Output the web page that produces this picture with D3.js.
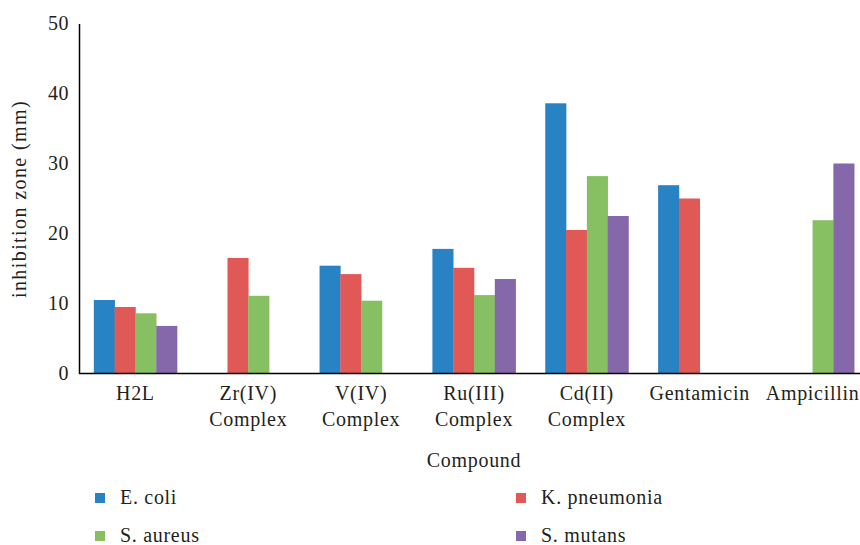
<!DOCTYPE html>
<html><head><meta charset="utf-8">
<script src="https://cdn.jsdelivr.net/npm/d3@7"></script>
<style>body{margin:0;background:#fff}svg{display:block}svg text{font-family:"Liberation Serif","DejaVu Serif",serif !important;fill:#231f20}</style>
</head><body>
<svg id="c" width="860" height="545"></svg>
<script>
const categories = ["H2L","Zr(IV)\nComplex","V(IV)\nComplex","Ru(III)\nComplex","Cd(II)\nComplex","Gentamicin","Ampicillin"];
const seriesNames = ["E. coli","K. pneumonia","S. aureus","S. mutans"];
const eColi      = [10.5, null, 15.4, 17.8, 38.6, 26.9, null];
const kPneumonia = [9.5, 16.5, 14.2, 15.1, 20.5, 25.0, null];
const sAureus    = [8.6, 11.1, 10.4, 11.2, 28.2, null, 21.9];
const sMutans    = [6.8, null, null, 13.5, 22.5, null, 30.0];
const yTicks = [0,10,20,30,40,50];
const colors = ["#2883c4","#e05957","#86c062","#8568aa"];

(function(){
const seriesVals = [eColi,kPneumonia,sAureus,sMutans];
const svg = d3.select("#c");
const mLeft = 79, mRight = 869, mTop = 23.5, mBottom = 373.5;
const FS = "20px", LS = "0.7px";

const x0 = d3.scaleBand().domain(categories).range([mLeft,mRight]).paddingInner(0).paddingOuter(0);
const step = x0.bandwidth();
const groupW = 83.2;
const x1 = d3.scaleBand().domain(seriesNames).range([(step-groupW)/2,(step+groupW)/2]);
const y = d3.scaleLinear().domain([0,50]).range([mBottom,mTop]);

// bars
const g = svg.append("g");
categories.forEach((c,i)=>{
  seriesNames.forEach((s,j)=>{
    const v = seriesVals[j][i];
    if(v==null) return;
    g.append("rect")
      .attr("x", x0(c)+x1(s))
      .attr("y", y(v))
      .attr("width", x1.bandwidth()+0.3)
      .attr("height", y(0)-y(v))
      .attr("fill", colors[j]);
  });
});

// y axis
const ya = svg.append("g").attr("transform",`translate(${mLeft},0)`)
  .call(d3.axisLeft(y).tickValues(yTicks).tickSize(0).tickPadding(10));
ya.attr("font-family",null).attr("font-size",null);
ya.select(".domain").attr("stroke","#000").attr("stroke-width",1.5);
ya.selectAll("text").style("font-size",FS).style("letter-spacing","0.5px").attr("fill","#231f20");

// x axis line
svg.append("line").attr("x1",mLeft).attr("x2",860).attr("y1",mBottom).attr("y2",mBottom)
  .attr("stroke","#000").attr("stroke-width",1.5);

// x labels
categories.forEach(c=>{
  const lines = c.split("\n");
  const t = svg.append("text").attr("text-anchor","middle")
    .attr("x", x0(c)+step/2).attr("y", 400).style("font-size",FS).style("letter-spacing",LS);
  lines.forEach((l,k)=>t.append("tspan").attr("x",x0(c)+step/2).attr("dy",k?26:0).text(l));
});

// axis titles
svg.append("text").attr("text-anchor","middle").attr("x",474).attr("y",467).style("font-size",FS).style("letter-spacing",LS).text("Compound");
svg.append("text").attr("text-anchor","middle").attr("transform","translate(26,199) rotate(-90)").style("font-size",FS).style("letter-spacing","1.4px").text("inhibition zone (mm)");

// legend
const legPos = [[95,498],[516,498],[95,536],[516,536]];
seriesNames.forEach((s,j)=>{
  const [lx,ly] = legPos[j];
  svg.append("rect").attr("x",lx).attr("y",ly-5).attr("width",10).attr("height",10).attr("fill",colors[j]);
  svg.append("text").attr("x",lx+25).attr("y",ly+6).style("font-size",FS).style("letter-spacing",LS).text(s);
});
})();
</script>
</body></html>
